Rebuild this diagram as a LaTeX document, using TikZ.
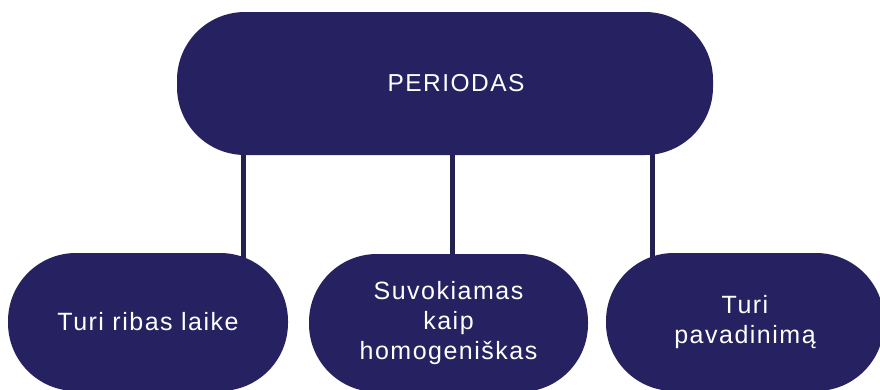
\documentclass[tikz,border=0pt]{standalone}
\usepackage{fontspec}
\setmainfont{Liberation Sans}[LetterSpace=6]
\usetikzlibrary{backgrounds}
\definecolor{navy}{RGB}{38,34,98}
\definecolor{linec}{RGB}{35,33,78}
\begin{document}
\begin{tikzpicture}[x=1pt,y=-1pt,
  pill/.style={fill=navy, draw=none, text=white, rounded corners=#1,
    align=center, inner sep=0pt, font=\fontsize{25}{30}\selectfont},
  link/.style={draw=linec, line width=5pt}]
\useasboundingbox (0,0) rectangle (880,389);
\node[pill=68, minimum width=536pt, minimum height=143pt, font=\fontsize{24.5}{30}\selectfont] (top) at (445,83.5) {\hspace*{22pt}PERIODAS};
\node[pill=68, minimum width=280pt, minimum height=138pt] (left) at (148,322) {Turi ribas laike};
\node[pill=68, minimum width=279pt, minimum height=138pt] (mid) at (448.5,323) {Suvokiamas\\kaip\\homogeniškas};
\node[pill=68, minimum width=278pt, minimum height=138pt] (right) at (745,322) {Turi\\pavadinimą};
\coordinate (c1) at (243,200);
\coordinate (c2) at (452,200);
\coordinate (c3) at (652,200);
\begin{pgfonlayer}{background}
\fill[white] (0,0) rectangle (880,389);
\draw[link] (top.center -| c1) -- (left.center -| c1);
\draw[link] (top.center -| c2) -- (mid.center -| c2);
\draw[link] (top.center -| c3) -- (right.center -| c3);
\end{pgfonlayer}
\end{tikzpicture}
\end{document}
